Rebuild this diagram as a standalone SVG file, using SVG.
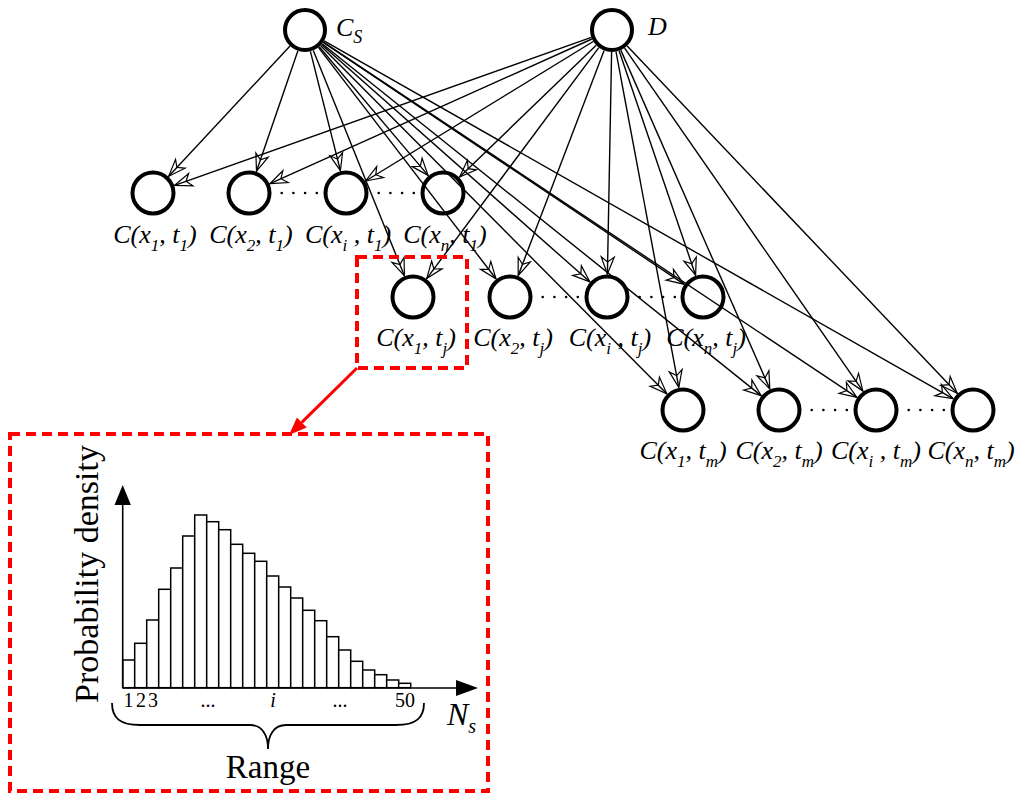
<svg xmlns="http://www.w3.org/2000/svg" width="1020" height="796" viewBox="0 0 1020 796">
<defs>
<marker id="oa" markerUnits="userSpaceOnUse" markerWidth="22" markerHeight="18" viewBox="-19 -9 20 18" refX="0" refY="0" orient="auto">
<path d="M0,0 L-17,-6.5 L-12,0 L-17,6.5 Z" fill="none" stroke="#000" stroke-width="1.2" stroke-linejoin="miter"/>
</marker>
</defs>
<style>
.e{stroke:#000;stroke-width:1.4;fill:none;marker-end:url(#oa)}
.n{fill:none;stroke:#000;stroke-width:4}
.lb{font-family:"Liberation Serif","Times New Roman",serif;font-style:italic;font-size:26px;fill:#000}
.sb{font-size:17px}
.dots{stroke:#000;stroke-width:2.6;stroke-linecap:round;stroke-dasharray:0 11.7;fill:none}
.rd{fill:none;stroke:#ff0000;stroke-width:4;stroke-dasharray:10 6}
.bar{fill:#fff;stroke:#000;stroke-width:1.5}
.ax{stroke:#000;stroke-width:1.6;fill:none}
.tx{font-family:"Liberation Serif","Times New Roman",serif;fill:#000}
</style>
<rect width="1020" height="796" fill="#fff"/>
<g id="connectors">
<line class="e" x1="290.0" y1="46.1" x2="168.7" y2="176.2"/>
<line class="e" x1="297.9" y1="50.8" x2="256.5" y2="171.2"/>
<line class="e" x1="310.4" y1="51.3" x2="340.4" y2="170.7"/>
<line class="e" x1="319.2" y1="46.8" x2="428.1" y2="175.4"/>
<line class="e" x1="313.3" y1="50.4" x2="404.4" y2="275.7"/>
<line class="e" x1="318.4" y1="47.4" x2="496.0" y2="278.8"/>
<line class="e" x1="321.5" y1="44.6" x2="589.8" y2="281.8"/>
<line class="e" x1="323.3" y1="42.3" x2="683.9" y2="284.2"/>
<line class="e" x1="320.5" y1="45.6" x2="666.8" y2="393.7"/>
<line class="e" x1="322.2" y1="43.8" x2="761.1" y2="395.6"/>
<line class="e" x1="323.3" y1="42.2" x2="856.9" y2="397.3"/>
<line class="e" x1="324.1" y1="40.9" x2="953.0" y2="398.6"/>
<line class="e" x1="591.3" y1="37.4" x2="174.7" y2="185.3"/>
<line class="e" x1="591.9" y1="39.0" x2="270.0" y2="183.6"/>
<line class="e" x1="593.2" y1="41.5" x2="365.6" y2="181.0"/>
<line class="e" x1="596.2" y1="45.3" x2="459.6" y2="177.0"/>
<line class="e" x1="598.8" y1="47.6" x2="426.7" y2="278.6"/>
<line class="e" x1="604.1" y1="50.5" x2="518.2" y2="275.5"/>
<line class="e" x1="611.6" y1="52.0" x2="607.4" y2="274.0"/>
<line class="e" x1="619.1" y1="50.8" x2="695.6" y2="275.2"/>
<line class="e" x1="616.0" y1="51.6" x2="678.8" y2="387.4"/>
<line class="e" x1="620.8" y1="50.1" x2="769.8" y2="388.9"/>
<line class="e" x1="624.6" y1="48.1" x2="862.9" y2="391.1"/>
<line class="e" x1="627.2" y1="46.0" x2="957.2" y2="393.3"/>
<path class="dots" d="M281.7,193 H317 M378.7,193 H414"/>
<path class="dots" d="M542.7,297 H578 M639.7,297 H675"/>
<path class="dots" d="M811.7,410 H847 M908.7,410 H944"/>
<line x1="357" y1="368" x2="301.8" y2="422.4" stroke="#ff0000" stroke-width="3"/>
<polygon points="289,435 306.7,427.4 296.9,417.4" fill="#ff0000"/>
</g>
<g id="node-cs"><circle class="n" cx="305" cy="30" r="20"/><text class="lb" x="336" y="36">C<tspan font-size="18" dy="7">S</tspan></text></g>
<g id="node-d"><circle class="n" cx="612" cy="30" r="20"/><text class="lb" x="648" y="35">D</text></g>
<g id="n-1-1"><circle class="n" cx="153" cy="193" r="20.5"/><text class="lb" x="155" y="243" text-anchor="middle">C(x<tspan class="sb" dy="8">1</tspan><tspan dy="-8">, t</tspan><tspan class="sb" dy="8">1</tspan><tspan dy="-8">)</tspan></text></g>
<g id="n-2-1"><circle class="n" cx="249" cy="193" r="20.5"/><text class="lb" x="251" y="243" text-anchor="middle">C(x<tspan class="sb" dy="8">2</tspan><tspan dy="-8">, t</tspan><tspan class="sb" dy="8">1</tspan><tspan dy="-8">)</tspan></text></g>
<g id="n-i-1"><circle class="n" cx="346" cy="193" r="20.5"/><text class="lb" x="348" y="243" text-anchor="middle">C(x<tspan class="sb" dy="8">i</tspan><tspan dy="-8"> , t</tspan><tspan class="sb" dy="8">1</tspan><tspan dy="-8">)</tspan></text></g>
<g id="n-n-1"><circle class="n" cx="443" cy="193" r="20.5"/><text class="lb" x="445" y="243" text-anchor="middle">C(x<tspan class="sb" dy="8">n</tspan><tspan dy="-8">, t</tspan><tspan class="sb" dy="8">1</tspan><tspan dy="-8">)</tspan></text></g>
<g id="n-1-j"><circle class="n" cx="413" cy="297" r="20.5"/><text class="lb" x="416" y="346" text-anchor="middle">C(x<tspan class="sb" dy="8">1</tspan><tspan dy="-8">, t</tspan><tspan class="sb" dy="8">j</tspan><tspan dy="-8">)</tspan></text></g>
<g id="n-2-j"><circle class="n" cx="510" cy="297" r="20.5"/><text class="lb" x="513" y="346" text-anchor="middle">C(x<tspan class="sb" dy="8">2</tspan><tspan dy="-8">, t</tspan><tspan class="sb" dy="8">j</tspan><tspan dy="-8">)</tspan></text></g>
<g id="n-i-j"><circle class="n" cx="607" cy="297" r="20.5"/><text class="lb" x="610" y="346" text-anchor="middle">C(x<tspan class="sb" dy="8">i</tspan><tspan dy="-8"> , t</tspan><tspan class="sb" dy="8">j</tspan><tspan dy="-8">)</tspan></text></g>
<g id="n-n-j"><circle class="n" cx="703" cy="297" r="20.5"/><text class="lb" x="706" y="346" text-anchor="middle">C(x<tspan class="sb" dy="8">n</tspan><tspan dy="-8">, t</tspan><tspan class="sb" dy="8">j</tspan><tspan dy="-8">)</tspan></text></g>
<g id="n-1-m"><circle class="n" cx="683" cy="410" r="20.5"/><text class="lb" x="683" y="459" text-anchor="middle">C(x<tspan class="sb" dy="8">1</tspan><tspan dy="-8">, t</tspan><tspan class="sb" dy="8">m</tspan><tspan dy="-8">)</tspan></text></g>
<g id="n-2-m"><circle class="n" cx="779" cy="410" r="20.5"/><text class="lb" x="779" y="459" text-anchor="middle">C(x<tspan class="sb" dy="8">2</tspan><tspan dy="-8">, t</tspan><tspan class="sb" dy="8">m</tspan><tspan dy="-8">)</tspan></text></g>
<g id="n-i-m"><circle class="n" cx="876" cy="410" r="20.5"/><text class="lb" x="876" y="459" text-anchor="middle">C(x<tspan class="sb" dy="8">i</tspan><tspan dy="-8"> , t</tspan><tspan class="sb" dy="8">m</tspan><tspan dy="-8">)</tspan></text></g>
<g id="n-n-m"><circle class="n" cx="973" cy="410" r="20.5"/><text class="lb" x="971" y="459" text-anchor="middle">C(x<tspan class="sb" dy="8">n</tspan><tspan dy="-8">, t</tspan><tspan class="sb" dy="8">m</tspan><tspan dy="-8">)</tspan></text></g>
<g id="highlight"><rect class="rd" x="357" y="257" width="110" height="111"/></g>
<g id="detail">
<rect class="rd" x="10" y="434" width="478" height="357"/>
<g id="bars">
<rect class="bar" x="122.7" y="660" width="12" height="27.7"/>
<rect class="bar" x="134.7" y="643.3" width="12" height="44.4"/>
<rect class="bar" x="146.7" y="620" width="12" height="67.7"/>
<rect class="bar" x="158.7" y="589.3" width="12" height="98.4"/>
<rect class="bar" x="170.7" y="568" width="12" height="119.7"/>
<rect class="bar" x="182.7" y="536" width="12" height="151.7"/>
<rect class="bar" x="194.7" y="515" width="12" height="172.7"/>
<rect class="bar" x="206.7" y="521.7" width="12" height="166"/>
<rect class="bar" x="218.7" y="529.7" width="12" height="158"/>
<rect class="bar" x="230.7" y="544.3" width="12" height="143.4"/>
<rect class="bar" x="242.7" y="553.3" width="12" height="134.4"/>
<rect class="bar" x="254.7" y="561.3" width="12" height="126.4"/>
<rect class="bar" x="266.7" y="576" width="12" height="111.7"/>
<rect class="bar" x="278.7" y="587" width="12" height="100.7"/>
<rect class="bar" x="290.7" y="598" width="12" height="89.7"/>
<rect class="bar" x="302.7" y="610.3" width="12" height="77.4"/>
<rect class="bar" x="314.7" y="620.7" width="12" height="67"/>
<rect class="bar" x="326.7" y="636.7" width="12" height="51"/>
<rect class="bar" x="338.7" y="650" width="12" height="37.7"/>
<rect class="bar" x="350.7" y="661.3" width="12" height="26.4"/>
<rect class="bar" x="362.7" y="670" width="12" height="17.7"/>
<rect class="bar" x="374.7" y="674.7" width="12" height="13"/>
<rect class="bar" x="386.7" y="680" width="12" height="7.7"/>
<rect class="bar" x="398.7" y="683.3" width="12" height="4.4"/>
</g>
<path class="ax" d="M122.7,688 V503 M122.7,688 H457"/>
<polygon points="122.7,485 114.5,505 130.9,505" fill="#000"/>
<polygon points="478,688 456,680 456,696" fill="#000"/>
<g class="tx" font-size="20">
<text x="128.5" y="707" text-anchor="middle">1</text>
<text x="141" y="707" text-anchor="middle">2</text>
<text x="153" y="707" text-anchor="middle">3</text>
<text x="208" y="707" text-anchor="middle">...</text>
<text x="273" y="707" text-anchor="middle" font-style="italic">i</text>
<text x="340" y="707" text-anchor="middle">...</text>
<text x="405" y="707" text-anchor="middle">50</text>
</g>
<path d="M112,703 C112,718 120,725 140,725 L250,725 C262,725 268,735 268,749 C268,735 274,725 286,725 L396,725 C416,725 424,718 424,703" fill="none" stroke="#000" stroke-width="1.8"/>
<text class="tx" x="268" y="778" font-size="33" text-anchor="middle">Range</text>
<text class="tx" transform="translate(98,574) rotate(-90)" font-size="34" text-anchor="middle">Probability density</text>
<text class="tx" x="447" y="725" font-size="32" font-style="italic">N<tspan font-size="20" dy="8">s</tspan></text>
</g>
</svg>
